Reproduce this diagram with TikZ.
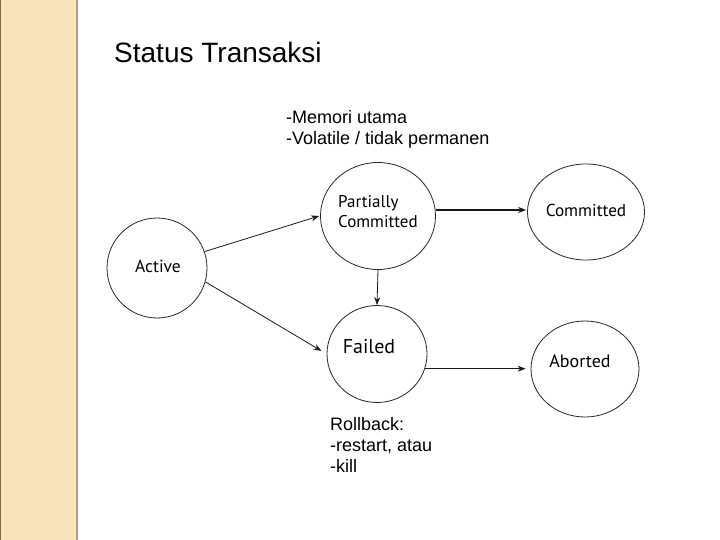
\documentclass[tikz,border=0pt]{standalone}
\usepackage{fontspec}
\setmainfont{Liberation Sans}
\newfontfamily\lblfont{PT Sans}
\usetikzlibrary{shapes.geometric,arrows.meta}
\definecolor{stripbeige}{RGB}{245,228,188}
\definecolor{stripedge}{RGB}{170,160,140}
\definecolor{stripleft}{RGB}{120,105,80}
\tikzset{
  state/.style={ellipse,draw=black!85,line width=0.8pt,inner sep=0pt,fill=white},
  lbl/.style={font=\lblfont,inner sep=0pt,anchor=center},
  conn/.style={draw=black!90,line width=0.8pt,-{Stealth[length=8pt,width=6pt]}},
  note/.style={inner sep=0pt,anchor=west,font=\fontsize{18}{21}\selectfont,align=left}
}
\begin{document}
\begin{tikzpicture}[x=1pt,y=-1pt]
\useasboundingbox (0,0) rectangle (720,540);
% left decorative strip
\fill[stripbeige] (0,0) rectangle (78,540);
\draw[stripedge,line width=2pt] (77,0) -- (77,540);
\draw[stripleft,line width=1pt] (0.5,0) -- (0.5,540);
% title
\node[inner sep=0pt,anchor=west,font=\fontsize{28}{32}\selectfont] (title) at (114,52) {Status Transaksi};
% note above
\node[note] (memo) at (286,129) {-Memori utama\\-Volatile / tidak permanen};
% states
\node[state,minimum width=100pt,minimum height=100pt] (act) at (157,268) {};
\node[state,minimum width=115pt,minimum height=107pt] (pc) at (378,216) {};
\node[state,minimum width=117pt,minimum height=96pt] (com) at (586,212) {};
\node[state,minimum width=100pt,minimum height=97pt] (fail) at (377,354) {};
\node[state,minimum width=108pt,minimum height=96pt] (abt) at (585,369) {};
% labels
\node[lbl,font=\lblfont\fontsize{17.5}{20}\selectfont] (tact) at (158,266) {Active};
\node[lbl,font=\lblfont\fontsize{17}{20}\selectfont,align=left,anchor=west] (tpc) at (338,212) {Partially\\Committed};
\node[lbl,font=\lblfont\fontsize{17.2}{20}\selectfont] (tcom) at (586,210) {Committed};
\node[lbl,font=\lblfont\fontsize{20}{23}\selectfont] (tfail) at (369,347) {Failed};
\node[lbl,font=\lblfont\fontsize{18}{21}\selectfont] (tabt) at (580,361) {Aborted};
% rollback note
\node[note] (rb) at (330,445) {Rollback:\\-restart, atau\\-kill};
% connectors
\draw[conn] (act.19) -- ([xshift=-1pt]pc.180);
\draw[conn,shorten >=6pt] (act.-16) -- (fail.180);
\draw[conn] (pc.south) -- (fail.north);
\draw[conn,line width=1.6pt,shorten >=1pt] (pc.6) -- (pc.6 -| com.west);
\draw[conn,shorten >=5pt] (fail.-17) -- (fail.-17 -| abt.west);
\end{tikzpicture}
\end{document}
